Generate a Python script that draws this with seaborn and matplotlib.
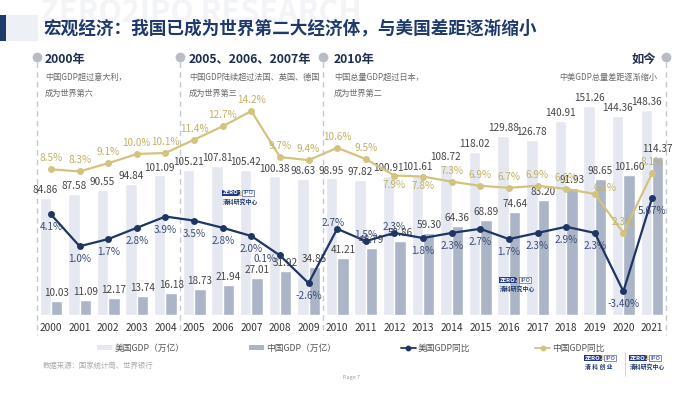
import numpy as np
import pandas as pd
import matplotlib
matplotlib.use('Agg')
import matplotlib.pyplot as plt
import matplotlib.transforms as mtransforms
from matplotlib.patches import Patch, Rectangle
from matplotlib.lines import Line2D
import seaborn as sns

# ---------------- data ----------------
years = [str(y) for y in range(2000, 2022)]
us_gdp = [84.86, 87.58, 90.55, 94.84, 101.09, 105.21, 107.81, 105.42, 100.38, 98.63,
          98.95, 97.82, 100.91, 101.61, 108.72, 118.02, 129.88, 126.78, 140.91, 151.26,
          144.36, 148.36]
cn_gdp = [10.03, 11.09, 12.17, 13.74, 16.18, 18.73, 21.94, 27.01, 31.92, 34.85,
          41.21, 48.79, 53.86, 59.30, 64.36, 68.89, 74.64, 83.20, 91.93, 98.65,
          101.60, 114.37]
us_growth = [4.1, 1.0, 1.7, 2.8, 3.9, 3.5, 2.8, 2.0, 0.1, -2.6,
             2.7, 1.5, 2.3, 1.8, 2.3, 2.7, 1.7, 2.3, 2.9, 2.3, -3.40, 5.67]
us_growth_labels = ['4.1%', '1.0%', '1.7%', '2.8%', '3.9%', '3.5%', '2.8%', '2.0%', '0.1%', '-2.6%',
                    '2.7%', '1.5%', '2.3%', '1.8%', '2.3%', '2.7%', '1.7%', '2.3%', '2.9%', '2.3%',
                    '-3.40%', '5.67%']
cn_growth = [8.5, 8.3, 9.1, 10.0, 10.1, 11.4, 12.7, 14.2, 9.7, 9.4,
             10.6, 9.5, 7.9, 7.8, 7.3, 6.9, 6.7, 6.9, 6.6, 6.1, 2.3, 8.1]
cn_growth_labels = ['8.5%', '8.3%', '9.1%', '10.0%', '10.1%', '11.4%', '12.7%', '14.2%', '9.7%', '9.4%',
                    '10.6%', '9.5%', '7.9%', '7.8%', '7.3%', '6.9%', '6.7%', '6.9%', '6.6%', '6.1%',
                    '2.3%', '8.1%']
series_names = ['美国GDP（万亿）', '中国GDP（万亿）', '美国GDP同比', '中国GDP同比']

title = '宏观经济：我国已成为世界第二大经济体，与美国差距逐渐缩小'
milestones = [
    ('2000年', ['中国GDP超过意大利，', '成为世界第六']),
    ('2005、2006、2007年', ['中国GDP陆续超过法国、英国、德国', '成为世界第三']),
    ('2010年', ['中国总量GDP超过日本，', '成为世界第二']),
    ('如今', ['中美GDP总量差距逐渐缩小']),
]
source_note = '数据来源：国家统计局、世界银行'

# ---------------- style ----------------
c_us_bar = '#e5e8f0'
c_cn_bar = '#abb5c7'
c_us_line = '#1f3563'
c_cn_line = '#d2c47e'
c_us_lab = '#3b4b75'
c_cn_lab = '#c0b163'
c_title = '#1e3a6c'
c_head = '#1f2d50'

sns.set_theme(style='white')
plt.rcParams['font.family'] = ['Noto Sans CJK SC', 'DejaVu Sans']
plt.rcParams['axes.unicode_minus'] = False

W, H = 700, 394
fig = plt.figure(figsize=(7, 3.94), dpi=100)
fig.patch.set_facecolor('white')


def fx(px):
    return px / W


def fy(py):
    return 1 - py / H


ax_left, ax_right, ax_top, ax_bot = 36.7, 666.3, 100, 315
ax = fig.add_axes([fx(ax_left), fy(ax_bot), (ax_right - ax_left) / W, (ax_bot - ax_top) / H])

n = len(years)
df = pd.DataFrame({
    'year': years * 2,
    'value': us_gdp + cn_gdp,
    'series': [series_names[0]] * n + [series_names[1]] * n,
})
sns.barplot(data=df, x='year', y='value', hue='series', hue_order=series_names[:2],
            palette=[c_us_bar, c_cn_bar], width=0.8, saturation=1, errorbar=None,
            legend=False, ax=ax)

for cont, vals in zip(ax.containers, [us_gdp, cn_gdp]):
    ax.bar_label(cont, labels=[f'{v:.2f}' for v in vals], padding=2, fontsize=7.2, color='#454545')

ax.set_xlim(-0.5, n - 0.5)
ax.set_ylim(0, 215 / 1.38)
ax.set_xlabel('')
ax.set_ylabel('')
ax.set_yticks([])
ax.tick_params(axis='x', length=0, pad=6, labelsize=7.3, labelcolor='#333333')
for s in ax.spines.values():
    s.set_visible(False)

ax2 = ax.twinx()
idx = np.arange(n)
sns.lineplot(x=idx, y=us_growth, ax=ax2, color=c_us_line, marker='o', markersize=5,
             markeredgewidth=0, linewidth=1.6)
sns.lineplot(x=idx, y=cn_growth, ax=ax2, color=c_cn_line, marker='o', markersize=5,
             markeredgewidth=0, linewidth=1.6)
ax2.set_ylim(-58.5 / 10.25, (215 - 58.5) / 10.25)
ax2.set_xlim(-0.5, n - 0.5)
ax2.set_yticks([])
ax2.set_ylabel('')
for s in ax2.spines.values():
    s.set_visible(False)

us_off = {8: (-15, -4), 10: (-4, 6), 11: (0, 6), 12: (0, 6)}
for i, (v, lab) in enumerate(zip(us_growth, us_growth_labels)):
    dx, dy = us_off.get(i, (0, -13))
    ax2.annotate(lab, (i, v), xytext=(dx, dy), textcoords='offset pixels',
                 ha='center', va='center', fontsize=7.2, color=c_us_lab)

cn_off = {12: (0, -9), 13: (0, -9), 19: (10, 6)}
for i, (v, lab) in enumerate(zip(cn_growth, cn_growth_labels)):
    dx, dy = cn_off.get(i, (0, 11))
    ax2.annotate(lab, (i, v), xytext=(dx, dy), textcoords='offset pixels',
                 ha='center', va='center', fontsize=7.2, color=c_cn_lab)

# ---------------- separators & milestones ----------------
blend = mtransforms.blended_transform_factory(ax.transData, fig.transFigure)
sep_x = [-0.5, 4.5, 9.5, n - 0.5]
for x in sep_x:
    ax.plot([x, x], [fy(62), fy(335)], transform=blend, clip_on=False,
            color='#c5c9d0', lw=1, ls=(0, (4, 3)), zorder=0)
    ax.plot([x], [fy(57)], transform=blend, clip_on=False, marker='o',
            markersize=7, color='#b8bcc4', markeredgewidth=0)

head_x = [45, 189, 334]
for (head, lines), px in zip(milestones[:3], head_x):
    fig.text(fx(px), fy(59), head, fontsize=8.8, fontweight='bold', color=c_head,
             ha='left', va='center')
    for k, line in enumerate(lines):
        fig.text(fx(px), fy(77 + 16 * k), line, fontsize=5.9, color='#6a6a6a',
                 ha='left', va='center')
head, lines = milestones[3]
fig.text(fx(656), fy(59), head, fontsize=8.8, fontweight='bold', color=c_head,
         ha='right', va='center')
fig.text(fx(657), fy(77), lines[0], fontsize=5.9, color='#6a6a6a', ha='right', va='center')

# ---------------- title ----------------
fig.text(fx(40), fy(13), 'ZERO2IPO RESEARCH', fontsize=22, fontweight='bold',
         color='#f3f4f7', ha='left', va='center', zorder=0)
fig.add_artist(Rectangle((fx(0), fy(41)), fx(6), (41 - 15) / H, transform=fig.transFigure,
                         facecolor='#1f3a6d', edgecolor='none'))
fig.add_artist(Rectangle((fx(6), fy(41)), fx(32), (41 - 15) / H, transform=fig.transFigure,
                         facecolor='#edf0f5', edgecolor='none'))
fig.text(fx(43), fy(28), title, fontsize=12.7, fontweight='bold', color=c_title,
         ha='left', va='center')

# ---------------- legend ----------------
handles = [
    Patch(facecolor=c_us_bar, edgecolor='none'),
    Patch(facecolor=c_cn_bar, edgecolor='none'),
    Line2D([0], [0], color=c_us_line, marker='o', markersize=3.2, lw=1.3),
    Line2D([0], [0], color=c_cn_line, marker='o', markersize=3.2, lw=1.3),
]
fig.legend(handles, series_names, loc='center', bbox_to_anchor=(fx(351), fy(348)),
           ncol=4, frameon=False, fontsize=6.3, columnspacing=7.4, handlelength=1.7,
           handleheight=0.45, handletextpad=0.25, labelcolor='#555555')

fig.text(fx(43), fy(366), source_note, fontsize=5.3, color='#aaaaaa', ha='left', va='center')
fig.text(fx(352), fy(378), 'Page 7', fontsize=4, color='#999999', ha='center', va='center')


# ---------------- logos ----------------
def logo(px, py, sub, fs=4.2):
    fig.text(fx(px), fy(py), 'ZERO', fontsize=fs, fontweight='bold', color='white',
             ha='left', va='center',
             bbox=dict(boxstyle='square,pad=0.15', facecolor='#1f3a8a', edgecolor='none'))
    fig.text(fx(px + 15), fy(py), '2', fontsize=fs + 1, fontweight='bold', color='#e6b422',
             ha='left', va='center')
    fig.text(fx(px + 20), fy(py), 'IPO', fontsize=fs, color='#1f3a8a', ha='left', va='center',
             bbox=dict(boxstyle='square,pad=0.15', facecolor='white', edgecolor='#1f3a8a', lw=0.4))
    fig.text(fx(px), fy(py + 9), sub, fontsize=fs, fontweight='bold', color='#1f3a6d',
             ha='left', va='center')


logo(223, 193, '清科研究中心')
logo(500, 280, '清科研究中心')
logo(585, 358, '清 科 创 业')
logo(630, 358, '清科研究中心')
fig.add_artist(Line2D([fx(625), fx(625)], [fy(352), fy(376)], transform=fig.transFigure,
                      color='#cccccc', lw=0.6))

fig.savefig('out.png', dpi=100, facecolor='white')
